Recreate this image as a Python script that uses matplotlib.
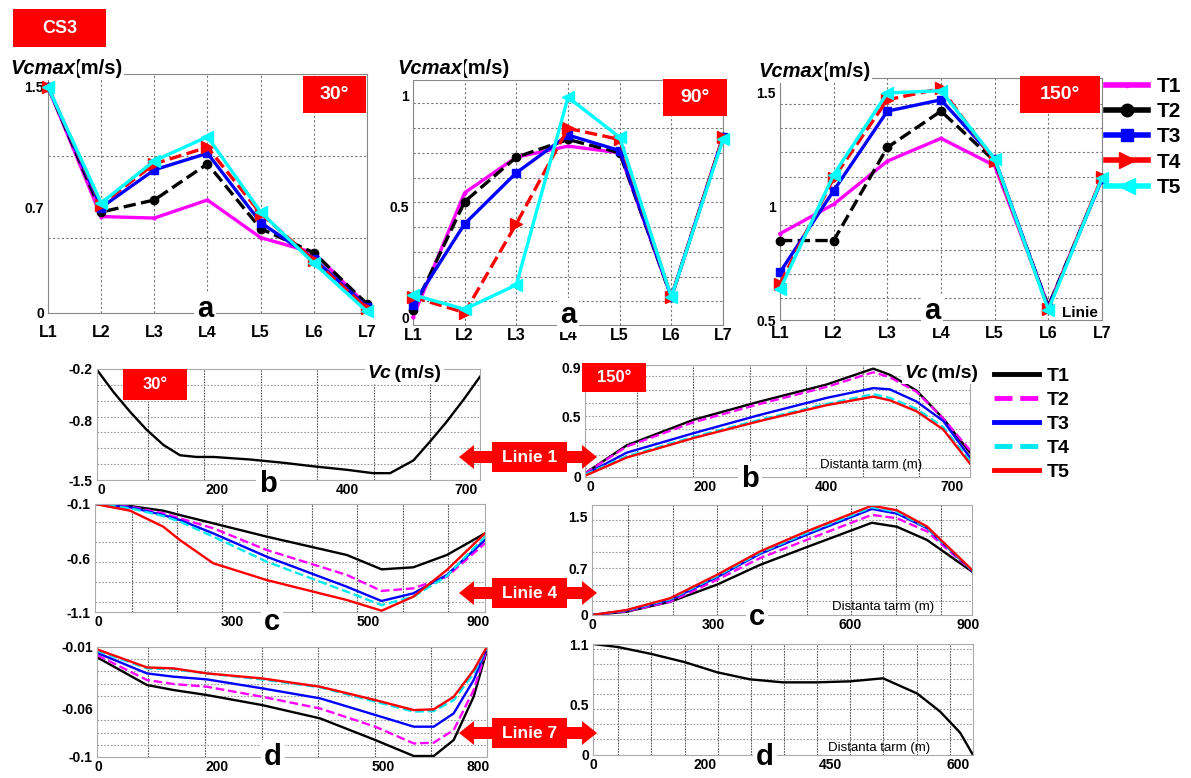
import numpy as np
import matplotlib
matplotlib.use("Agg")
import matplotlib.pyplot as plt
from matplotlib.patches import Rectangle, Polygon
from matplotlib.lines import Line2D

plt.rcParams["font.family"] = ["Liberation Sans", "DejaVu Sans"]
plt.rcParams["font.weight"] = "bold"

W, H = 1191, 778

# ---------------- data ----------------
lines = ["L1", "L2", "L3", "L4", "L5", "L6", "L7"]
series = ["T1", "T2", "T3", "T4", "T5"]

# Vcmax per line, one row per series T1..T5
vmax_30 = [
    [1.50, 0.64, 0.63, 0.75, 0.50, 0.40, 0.05],
    [1.50, 0.67, 0.75, 0.99, 0.56, 0.40, 0.06],
    [1.50, 0.70, 0.95, 1.06, 0.60, 0.36, 0.04],
    [1.50, 0.72, 0.99, 1.10, 0.66, 0.35, 0.03],
    [1.50, 0.73, 1.01, 1.17, 0.67, 0.33, 0.01],
]
vmax_90 = [
    [0.00, 0.56, 0.72, 0.77, 0.74, 0.09, 0.81],
    [0.03, 0.52, 0.72, 0.80, 0.74, 0.09, 0.81],
    [0.055, 0.42, 0.65, 0.82, 0.75, 0.09, 0.81],
    [0.09, 0.02, 0.42, 0.85, 0.80, 0.09, 0.81],
    [0.10, 0.035, 0.145, 0.99, 0.81, 0.09, 0.80],
]
vmax_150 = [
    [0.88, 1.01, 1.20, 1.30, 1.18, 0.56, 1.125],
    [0.85, 0.85, 1.26, 1.42, 1.20, 0.56, 1.125],
    [0.71, 1.07, 1.42, 1.47, 1.21, 0.555, 1.12],
    [0.66, 1.125, 1.47, 1.52, 1.20, 0.55, 1.13],
    [0.635, 1.14, 1.50, 1.51, 1.21, 0.545, 1.125],
]
yticks_30 = [0, 0.7, 1.5]
yticks_90 = [0, 0.5, 1]
yticks_150 = [0.5, 1, 1.5]

# Linie 1
dist_l1_30 = [0, 31, 62, 93, 125, 156, 187, 219, 288, 353, 407, 469, 519, 551, 595, 626, 657, 689, 720]
vc_l1_30 = [-0.21, -0.47, -0.70, -0.91, -1.09, -1.21, -1.23, -1.23, -1.26, -1.30, -1.34,
            -1.38, -1.42, -1.42, -1.27, -1.05, -0.82, -0.56, -0.29]
dist_l1_150 = [0, 78, 203, 327, 452, 539, 570, 620, 670, 720]
vc_l1_150 = [
    [0.03, 0.26, 0.47, 0.62, 0.76, 0.89, 0.84, 0.71, 0.48, 0.20],
    [0.03, 0.25, 0.45, 0.60, 0.74, 0.86, 0.82, 0.70, 0.48, 0.22],
    [0.02, 0.20, 0.36, 0.51, 0.65, 0.73, 0.72, 0.62, 0.46, 0.16],
    [0.02, 0.17, 0.33, 0.47, 0.60, 0.68, 0.65, 0.56, 0.41, 0.13],
    [0.01, 0.16, 0.32, 0.46, 0.59, 0.66, 0.63, 0.54, 0.39, 0.11],
]

# Linie 4
dist_l4_30 = [0, 83, 161, 200, 279, 405, 594, 676, 751, 830, 920]
vc_l4_30 = [
    [-0.100, -0.119, -0.162, -0.202, -0.279, -0.402, -0.572, -0.705, -0.686, -0.572, -0.372],
    [-0.100, -0.125, -0.186, -0.232, -0.325, -0.526, -0.757, -0.905, -0.881, -0.773, -0.464],
    [-0.100, -0.131, -0.202, -0.248, -0.372, -0.588, -0.866, -0.998, -0.927, -0.757, -0.433],
    [-0.100, -0.140, -0.211, -0.263, -0.402, -0.634, -0.912, -1.036, -0.958, -0.767, -0.402],
    [-0.100, -0.162, -0.310, -0.433, -0.649, -0.804, -0.989, -1.088, -0.958, -0.711, -0.372],
]
dist_l4_150 = [0, 83, 187, 299, 402, 514, 670, 730, 802, 910]
vc_l4_150 = [
    [0.00, 0.05, 0.20, 0.46, 0.76, 1.03, 1.40, 1.34, 1.14, 0.66],
    [0.00, 0.056, 0.203, 0.533, 0.863, 1.14, 1.52, 1.47, 1.27, 0.67],
    [0.00, 0.066, 0.228, 0.573, 0.928, 1.218, 1.61, 1.54, 1.32, 0.675],
    [0.00, 0.071, 0.24, 0.59, 0.945, 1.244, 1.635, 1.565, 1.33, 0.68],
    [0.00, 0.076, 0.254, 0.609, 0.964, 1.27, 1.66, 1.59, 1.345, 0.685],
]

# Linie 7
dist_l7_30 = [0, 105, 161, 231, 347, 469, 585, 666, 708, 750, 792, 820]
vc_l7_30 = [
    [-0.0184, -0.0411, -0.0452, -0.0493, -0.0575, -0.0684, -0.0861, -0.0992, -0.0992, -0.0861, -0.0506, -0.0125],
    [-0.0166, -0.0370, -0.0403, -0.0425, -0.0507, -0.0603, -0.0752, -0.0889, -0.0883, -0.0779, -0.0452, -0.0111],
    [-0.0147, -0.0316, -0.0343, -0.0365, -0.0438, -0.0520, -0.0656, -0.0752, -0.0752, -0.0643, -0.0370, -0.0103],
    [-0.0130, -0.0275, -0.0283, -0.0316, -0.0365, -0.0430, -0.0547, -0.0629, -0.0624, -0.0534, -0.0316, -0.0103],
    [-0.0119, -0.0267, -0.0275, -0.0316, -0.0357, -0.0425, -0.0534, -0.0616, -0.0610, -0.0507, -0.0289, -0.0097],
]
dist_l7_150 = [0, 41, 97, 151, 204, 258, 312, 368, 423, 477, 533, 571, 604, 625]
vc_l7_150 = [[1.10, 1.07, 1.00, 0.92, 0.82, 0.75, 0.72, 0.72, 0.73, 0.76, 0.61, 0.43, 0.22, 0.00]]

xlab_l1 = ["0", "200", "400", "700"]
xlab_l4_30 = ["0", "300", "500", "900"]
xlab_l4_150 = ["0", "300", "600", "900"]
xlab_l7_30 = ["0", "200", "500", "800"]
xlab_l7_150 = ["0", "200", "450", "600"]

# ---------------- styles ----------------
top_colors = ["#ff00ff", "black", "#0000ff", "#ff0000", "#00ffff"]
top_ls = ["-", "--", "-", "--", "-"]
top_markers = [".", "o", "s", ">", "<"]
top_ms = [4, 6, 6, 8, 8]
leg_ms = [6, 9, 9, 12, 12]
bot_colors = ["black", "#ff00ff", "#0000ff", "#00e8f0", "#ff0000"]
bot_ls = ["-", "--", "-", "--", "-"]

fig = plt.figure(figsize=(W / 100, H / 100), dpi=100, facecolor="white")


def px_axes(x0, y0, x1, y1):
    return fig.add_axes([x0 / W, 1 - y1 / H, (x1 - x0) / W, (y1 - y0) / H])


def top_panel(rect, vals, ylim, yticks, ygrid, xpad):
    ax = px_axes(*rect)
    x = np.arange(len(lines))
    for v, c, ls, m, ms in zip(vals, top_colors, top_ls, top_markers, top_ms):
        ax.plot(x, v, color=c, ls=ls, lw=2.4, marker=m, ms=ms, mfc=c, mec=c,
                clip_on=False, zorder=3)
    ax.set_xlim(0, len(lines) - 1)
    ax.set_ylim(*ylim)
    ax.set_xticks(x, lines)
    ax.set_yticks(yticks, [f"{t:g}" for t in yticks])
    ax.set_yticks(ygrid, minor=True)
    ax.tick_params(which="both", length=0)
    ax.tick_params(axis="x", pad=xpad, labelsize=11.5)
    ax.tick_params(axis="y", pad=3, labelsize=10)
    ax.grid(axis="x", color="#777", ls=(0, (2, 2)), lw=0.8)
    ax.grid(axis="y", which="minor", color="#777", ls=(0, (2, 2)), lw=0.8)
    for s in ax.spines.values():
        s.set_color("#888")
    return ax


def bottom_panel(rect, dist, curves, xmax, ylim, xtick_pos, xlabels, yticks, xgrid, ygrid):
    ax = px_axes(*rect)
    for v, c, ls in zip(curves, bot_colors, bot_ls):
        ax.plot(dist, v, color=c, ls=ls, lw=1.7)
    ax.set_xlim(0, xmax)
    ax.set_ylim(*ylim)
    ax.set_xticks(xtick_pos, xlabels)
    ax.set_xticks(xgrid, minor=True)
    ax.set_yticks(yticks, [f"{t:g}" for t in yticks])
    ax.set_yticks(ygrid, minor=True)
    ax.tick_params(which="both", length=0, labelsize=10)
    ax.tick_params(axis="x", pad=2)
    ax.tick_params(axis="y", pad=3)
    ax.grid(axis="x", which="minor", color="#555", ls=(0, (1.5, 1)), lw=0.8)
    ax.grid(axis="y", which="minor", color="#999", ls=(0, (1.5, 1.5)), lw=0.8)
    for s in ax.spines.values():
        s.set_color("#aaa")
    return ax


# top row
top_panel((48, 74, 367, 313), vmax_30, (0, 1.586), yticks_30, [0.5, 1.04], 9)
top_panel((413, 80, 723, 325), vmax_90, (-0.036, 1.068), yticks_90,
          0.07 + 0.1116 * np.arange(9), 2)
top_panel((780, 78, 1102, 320), vmax_150, (0.5, 1.566), yticks_150,
          0.596 + 0.107 * np.arange(9), 4)

# bottom rows
bottom_panel((97, 369, 480, 480), dist_l1_30, [vc_l1_30], 720, (-1.5, -0.2),
             [8, 226, 470, 694], xlab_l1, [-1.5, -0.8, -0.2],
             np.arange(96, 720, 106), np.linspace(-1.5, -0.2, 8)[1:-1])
bottom_panel((585, 365, 970, 477), dist_l1_150, vc_l1_150, 720, (0, 0.92),
             [10, 224, 452, 686], xlab_l1, [0, 0.5, 0.9],
             np.arange(97, 720, 105.5), 0.07 + 0.108 * np.arange(8))
bottom_panel((95, 504, 485, 612), dist_l4_30, vc_l4_30, 920, (-1.1, -0.1),
             [7, 325, 644, 903], xlab_l4_30, [-1.1, -0.6, -0.1],
             np.arange(86.5, 920, 106.5), -0.267 - 0.185 * np.arange(5))
bottom_panel((592, 505, 972, 615), dist_l4_150, vc_l4_150, 910, (0, 1.67),
             [0, 290, 618, 900], xlab_l4_150, [0, 0.7, 1.5],
             np.arange(86, 910, 107), 0.213 + 0.2465 * np.arange(6))
bottom_panel((97, 647, 487, 757), dist_l7_30, vc_l7_30, 820, (-0.1, -0.01),
             [2, 252, 601, 801], xlab_l7_30, [-0.1, -0.06, -0.01],
             np.arange(108, 820, 119), np.arange(-0.09, -0.011, 0.01))
bottom_panel((593, 644, 973, 755), dist_l7_150, vc_l7_150, 625, (0, 1.1),
             [0, 184, 390, 600], xlab_l7_150, [0, 0.5, 1.1],
             np.arange(41.7, 625, 54.5), 0.156 + 0.1487 * np.arange(7))

# ---------------- overlay annotations (pixel coords) ----------------
ov = fig.add_axes([0, 0, 1, 1], facecolor="none", zorder=10)
ov.set_xlim(0, W)
ov.set_ylim(H, 0)
ov.axis("off")


def red_box(x, y, w, h, text, size):
    ov.add_patch(Rectangle((x, y), w, h, fc="#ff0000", ec="none"))
    ov.text(x + w / 2, y + h / 2, text, color="white", ha="center", va="center",
            fontsize=size, weight="bold")


def two_part(x, y, first, second, size):
    # italic part drawn last so its overhang is not hidden by the second box
    t = ov.text(x, y, first, style="italic", weight="bold", fontsize=size, va="center",
                zorder=5, bbox=dict(fc="white", ec="none", pad=1.5))
    ov.annotate(second, xy=(1, 0.5), xycoords=t, va="center", ha="left", weight="bold",
                fontsize=size, zorder=4, xytext=(-1.0, 0), textcoords="offset points",
                bbox=dict(fc="white", ec="none", pad=1.5))


def letter(x, y, s):
    ov.text(x, y, s, fontsize=21, weight="bold", ha="center", va="baseline",
            bbox=dict(fc="white", ec="none", pad=2))


def double_arrow(x0, x1, y, shaft=6, head_w=12, head_l=15):
    pts = [(x0, y), (x0 + head_l, y - head_w), (x0 + head_l, y - shaft),
           (x1 - head_l, y - shaft), (x1 - head_l, y - head_w), (x1, y),
           (x1 - head_l, y + head_w), (x1 - head_l, y + shaft),
           (x0 + head_l, y + shaft), (x0 + head_l, y + head_w)]
    ov.add_patch(Polygon(pts, closed=True, fc="#ff0000", ec="none"))


red_box(13, 9, 93, 38, "CS3", 13)
red_box(303, 76, 63, 37, "30°", 14)
red_box(663, 79, 64, 37, "90°", 14)
red_box(1020, 76, 80, 37, "150°", 14)
red_box(123, 369, 64, 31, "30°", 12)
red_box(582, 363, 64, 29, "150°", 12)

two_part(10, 68, "Vcmax", "(m/s)", 14.5)
two_part(397, 68, "Vcmax", "(m/s)", 14.5)
two_part(758, 71, "Vcmax", "(m/s)", 14.5)
two_part(367, 373, "Vc", " (m/s)", 14)
two_part(904, 373, "Vc", " (m/s)", 14)

letter(205, 317, "a")
letter(568, 323, "a")
letter(932, 319, "a")
letter(268, 492, "b")
letter(750, 487, "b")
letter(272, 630, "c")
letter(757, 625, "c")
letter(273, 765, "d")
letter(765, 765, "d")

ov.text(1080, 313, "Linie", fontsize=11, weight="bold", ha="center", va="center")
for x, y in [(820, 465), (832, 607), (828, 748)]:
    ov.text(x, y, "Distanta tarm (m)", fontsize=9.5, weight="normal", ha="left", va="center")

for y, label in [(457, "Linie 1"), (593, "Linie 4"), (733, "Linie 7")]:
    double_arrow(459, 597, y)
    red_box(492, y - 15, 75, 30, label, 12.5)

# legends
top_handles = [Line2D([], [], color=c, lw=4, marker=m, ms=ms, mfc=c, mec=c)
               for c, m, ms in zip(top_colors, top_markers, leg_ms)]
fig.legend(top_handles, series, loc="upper left", bbox_to_anchor=(1106 / W, 1 - 77 / H),
           frameon=False, prop=dict(weight="bold", size=15), handlelength=2.0,
           handletextpad=0.45, labelspacing=0.3, borderpad=0, borderaxespad=0)
bot_handles = [Line2D([], [], color=c, lw=3.5, ls=ls) for c, ls in zip(bot_colors, bot_ls)]
fig.legend(bot_handles, series, loc="upper left", bbox_to_anchor=(994 / W, 1 - 367 / H),
           frameon=False, prop=dict(weight="bold", size=14), handlelength=2.3,
           handletextpad=0.4, labelspacing=0.33, borderpad=0, borderaxespad=0)

fig.savefig("out.png", dpi=100, facecolor="white")
